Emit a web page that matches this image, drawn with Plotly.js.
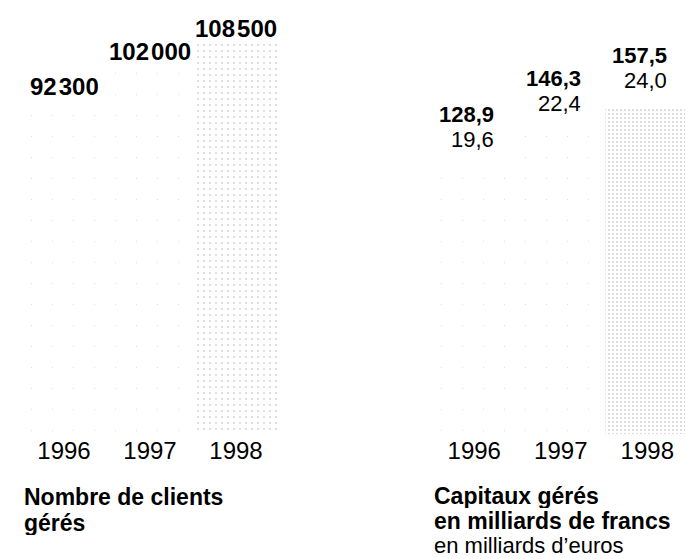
<!DOCTYPE html>
<html>
<head>
<meta charset="utf-8">
<script src="https://cdn.plot.ly/plotly-3.0.1.min.js"></script>
<style>html,body{margin:0;padding:0;background:#fff;}#chart{width:685px;height:559px;}</style>
</head>
<body>
<div id="chart"></div>
<script>
// ---- data ----
const years = ['1996', '1997', '1998'];
const clients = [92300, 102000, 108500];
const capFrancs = [128.9, 146.3, 157.5];
const capEuros = [19.6, 22.4, 24.0];
const leftTitle = ['Nombre de clients', 'gérés'];
const rightTitle = ['Capitaux gérés', 'en milliards de francs'];
const rightSubtitle = 'en milliards d\u2019euros';

// ---- helpers ----
const FONT = '"Liberation Sans", Arial, Helvetica, sans-serif';
function fmtThousands(v) {
  const s = String(Math.round(v));
  return s.replace(/\B(?=(\d{3})+(?!\d))/g, '\u200A');
}
function fmtComma(v) { return v.toFixed(1).replace('.', ','); }

function patt(dense) {
  return {
    shape: ['.', '.', '.'],
    fgcolor: ['#e2e2e2', '#e2e2e2', dense ? '#a8a8a8' : '#b0b0b0'],
    bgcolor: ['#ffffff', '#ffffff', '#ffffff'],
    size: [21, 21, dense ? 4 : 6],
    solidity: [0.003, 0.003, dense ? 0.1 : 0.05]
  };
}

const traces = [
  {
    type: 'bar', x: years, y: clients, xaxis: 'x', yaxis: 'y',
    marker: {color: '#ffffff', line: {width: 0}, pattern: patt(false)},
    hoverinfo: 'none'
  },
  {
    type: 'bar', x: years, y: capFrancs, xaxis: 'x2', yaxis: 'y2',
    marker: {color: '#ffffff', line: {width: 0}, pattern: patt(true)},
    hoverinfo: 'none'
  }
];

const annotations = [];
years.forEach((yr, i) => {
  annotations.push({
    xref: 'x', yref: 'y', x: i, y: clients[i], text: '<b>' + fmtThousands(clients[i]) + '</b>',
    showarrow: false, xanchor: 'center', yanchor: 'middle', yshift: 15, height: 24,
    font: {family: FONT, size: 24, color: '#000'}
  });
  annotations.push({
    xref: 'x2', yref: 'y2', x: i, y: capFrancs[i], text: '<b>' + fmtComma(capFrancs[i]) + '</b>',
    showarrow: false, xanchor: 'right', yanchor: 'middle', xshift: 22, yshift: 52, height: 24,
    font: {family: FONT, size: 22, color: '#000'}
  });
  annotations.push({
    xref: 'x2', yref: 'y2', x: i, y: capFrancs[i], text: fmtComma(capEuros[i]),
    showarrow: false, xanchor: 'right', yanchor: 'middle', xshift: 22, yshift: 27, height: 24,
    font: {family: FONT, size: 22, color: '#000'}
  });
});
// titles
const H = 559;
function py(px) { return (H - px) / H; }
function title(x, y, text, bold, size) {
  annotations.push({xref: 'paper', yref: 'paper', x: x / 685, y: py(y), xanchor: 'left', yanchor: 'middle',
    height: 25, text: bold ? '<b>' + text + '</b>' : text, showarrow: false,
    font: {family: FONT, size: size, color: '#000'}});
}
title(22, 497, leftTitle[0], true, 23);
title(22, 522, leftTitle[1], true, 23);
title(432, 495, rightTitle[0], true, 23);
title(432, 520, rightTitle[1], true, 23);
title(432, 545, rightSubtitle, false, 22);

const axX = {
  type: 'category', showgrid: false, zeroline: false, showline: false, ticks: '',
  tickfont: {family: FONT, size: 24, color: '#000'}, fixedrange: true
};
const yDomain = [(H - 434) / H, 1];

const layout = {
  width: 685, height: 559,
  margin: {l: 0, r: 0, t: 0, b: 0, pad: 0},
  paper_bgcolor: '#fff', plot_bgcolor: '#fff',
  showlegend: false, bargap: 0.03,
  font: {family: FONT, color: '#000'},
  xaxis: Object.assign({}, axX, {domain: [21 / 685, 279 / 685], range: [-0.5, 2.5], anchor: 'y'}),
  yaxis: {domain: yDomain, range: [0, 108500 * 434 / 391], visible: false, fixedrange: true, anchor: 'x'},
  xaxis2: Object.assign({}, axX, {domain: [431 / 685, 1], range: [-0.5, 2.436], anchor: 'y2'}),
  yaxis2: {domain: yDomain, range: [0, 157.5 * 434 / 327], visible: false, fixedrange: true, anchor: 'x2'},
  annotations: annotations
};

Plotly.newPlot('chart', traces, layout, {staticPlot: true, displayModeBar: false});
</script>
</body>
</html>
